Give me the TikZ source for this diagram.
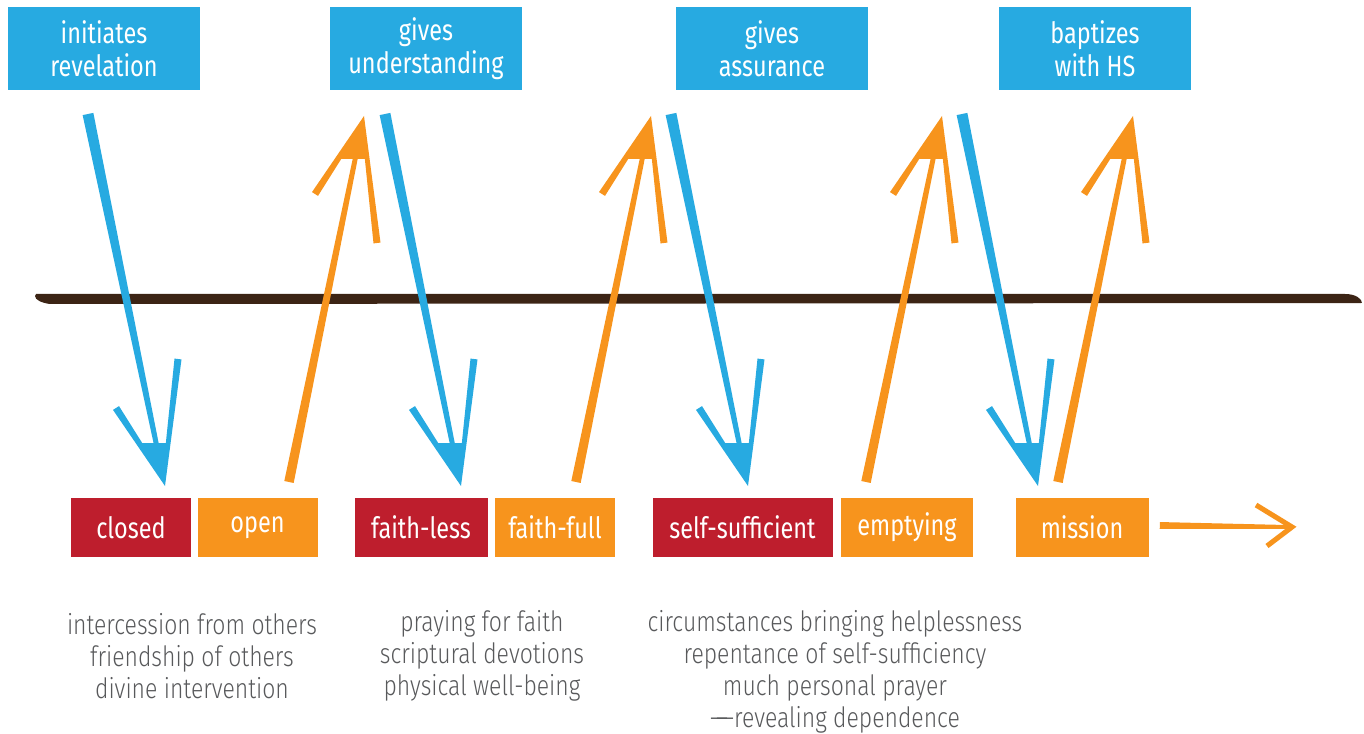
\documentclass[tikz,border=0pt]{standalone}
\usepackage{fontspec}
\setmainfont{Fira Sans}[FakeStretch=0.8]
\newfontfamily\lightfont{Fira Sans Light}[FakeStretch=0.82]
\usetikzlibrary{positioning,calc}
\definecolor{skyc}{HTML}{27AAE1}
\definecolor{redc}{HTML}{BE1E2D}
\definecolor{orangec}{HTML}{F7941D}
\definecolor{brownc}{HTML}{3C2415}
\definecolor{greytext}{HTML}{58595B}
\tikzset{
    topbox/.style={
        rectangle, fill=skyc, text=white,
        minimum width=144pt, minimum height=62.25pt, inner sep=0pt,
        align=center, font=\fontsize{22}{25}\selectfont
    },
    stagebox/.style={
        rectangle, text=white,
        minimum height=44.25pt, inner sep=0pt,
        align=center, font=\fontsize{22}{24}\selectfont
    },
    note/.style={
        align=center, text=greytext, inner sep=0pt,
        font=\lightfont\fontsize{21}{24}\selectfont
    },
    tiphead/.pic={
        \fill[#1] (0,0) -- (-52,-76.1) -- (-46,-79.9) -- (-22.8,-43)
            -- (0.85,-43) -- (9.5,-127.4) -- (16.5,-126.6) -- cycle;
    }
}
% tapered shaft: colour, start, end, start half width, end half width
\newcommand{\taperfill}[5]{\fill[#1] ($(#2)!#4!90:(#3)$) -- ($(#2)!#4!-90:(#3)$)
    -- ($(#3)!#5!90:(#2)$) -- ($(#3)!#5!-90:(#2)$) -- cycle;}

\begin{document}
\begin{tikzpicture}[x=0.75pt, y=-0.75pt]
    \useasboundingbox (0,0) rectangle (1364,734);

    % Timeline
    \fill[brownc] (36,294) -- (1345,294) .. controls (1356,294) and (1362,299) .. (1362,303)
        -- (50,304) .. controls (42,303) and (35,300) .. (35,296) -- cycle;

    % What is given
    \node[topbox] (initrev) at (104,48.5) {initiates\\revelation};
    \node[topbox] (giveund) at (426,48.5) {gives\\understanding};
    \node[topbox] (giveass) at (772,48.5) {gives\\assurance};
    \node[topbox] (baptize) at (1095,48.5) {baptizes\\with HS};

    % Stages
    \node[stagebox, fill=redc, minimum width=90pt] (closed) at (131,527.5) {closed};
    \node[stagebox, fill=orangec, minimum width=90pt, right=4.5pt of closed] (open) {open};
    \node[stagebox, fill=redc, minimum width=99.75pt] (faithless) at (421,527.5) {faith-less};
    \node[stagebox, fill=orangec, minimum width=90pt, right=5.25pt of faithless] (faithfull) {faith-full};
    \node[stagebox, fill=redc, minimum width=135pt] (selfsuff) at (742.5,527.5) {self-sufficient};
    \node[stagebox, fill=orangec, minimum width=99pt, right=6pt of selfsuff] (emptying) {emptying};
    \node[stagebox, fill=orangec, minimum width=99.75pt] (mission) at (1082,527.5) {mission};

    % Means
    \node[note] (means1) at (192,656) {intercession from others\\friendship of others\\divine intervention};
    \node[note] (means2) at (482,656) {praying for faith\\scriptural devotions\\physical well-being};
    \node[note] (means3) at (835,672) {circumstances bringing helplessness\\repentance of self-sufficiency\\much personal prayer\\—\kern-9pt—revealing dependence};

    % Downward arrows
    \foreach \sx/\tx in {88/165, 385/461, 671/748, 962/1038} {
        \coordinate (downs) at (\sx,114);
        \coordinate (downt) at (\tx,486);
        \coordinate (downe) at ($(downt)!14pt!(downs)$);
        \taperfill{skyc}{downs}{downe}{4.1pt}{1.7pt}
        \pic at (downt) {tiphead=skyc};
    }

    % Upward arrows
    \foreach \bx/\tx in {289/364, 576/651, 866/942, 1058/1133} {
        \coordinate (upb) at (\bx,482);
        \coordinate (upt) at (\tx,116);
        \coordinate (upe) at ($(upt)!14pt!(upb)$);
        \taperfill{orangec}{upb}{upe}{3.6pt}{1.7pt}
        \pic[yscale=-1] at (upt) {tiphead=orangec};
    }

    % Onward
    \coordinate (onwards) at ([xshift=8.25pt, yshift=1.5pt]mission.east);
    \coordinate (onwarde) at (1292,527);
    \taperfill{orangec}{onwards}{onwarde}{2.6pt}{1.4pt}
    \draw[orangec, line width=3.8pt] (1256,505) -- (onwarde) -- (1267,546);

\end{tikzpicture}
\end{document}
